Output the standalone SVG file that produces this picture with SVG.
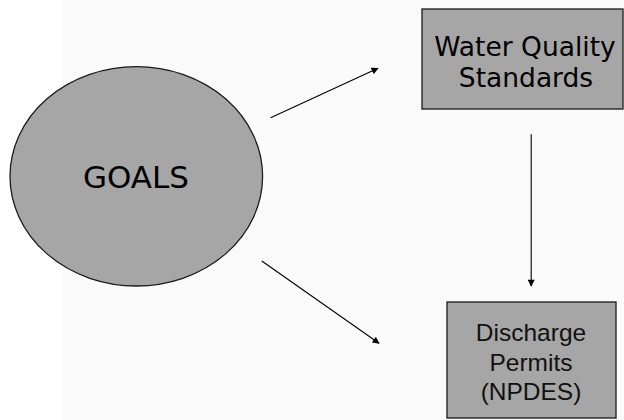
<svg xmlns="http://www.w3.org/2000/svg" width="624" height="420" viewBox="0 0 624 420">
<defs>
<style>
.shape{fill:#a6a6a6;stroke:#1a1a1a;stroke-width:1.3}
.conn{stroke:#000;stroke-width:1.1;fill:none;marker-end:url(#ah)}
.t1{font-family:"DejaVu Sans",sans-serif;fill:#000;text-anchor:middle}
.t2{font-family:"Liberation Sans",Arial,sans-serif;fill:#111;text-anchor:middle}
</style>
<marker id="ah" viewBox="0 0 10 10" refX="9" refY="5" markerWidth="8" markerHeight="7" markerUnits="userSpaceOnUse" orient="auto">
<path d="M0,0 L10,5 L0,10 z" fill="#000"/>
</marker>
</defs>
<rect x="0" y="0" width="624" height="420" fill="#fafafa"/>
<rect x="0" y="0" width="63" height="420" fill="#ffffff"/>
<g id="goals">
<ellipse class="shape" cx="136.3" cy="176.3" rx="126.3" ry="109.7"/>
<text class="t1" x="136" y="188" font-size="31">GOALS</text>
</g>
<g id="wqs">
<rect class="shape" x="422" y="9" width="201" height="100"/>
<text class="t1" x="525" y="56" font-size="26.5">Water Quality</text>
<text class="t1" x="526" y="87" font-size="26.5">Standards</text>
</g>
<g id="permits">
<rect class="shape" x="447" y="302" width="169" height="116"/>
<text class="t2" x="531" y="341" font-size="24.5">Discharge</text>
<text class="t2" x="531" y="371" font-size="24.5">Permits</text>
<text class="t2" x="531" y="400" font-size="24.5">(NPDES)</text>
</g>
<g id="connectors">
<line class="conn" x1="270.6" y1="117.7" x2="378" y2="68.3"/>
<line class="conn" x1="261.8" y1="261" x2="379" y2="343.3"/>
<line class="conn" x1="531.2" y1="134.3" x2="531.2" y2="286"/>
</g>
</svg>
